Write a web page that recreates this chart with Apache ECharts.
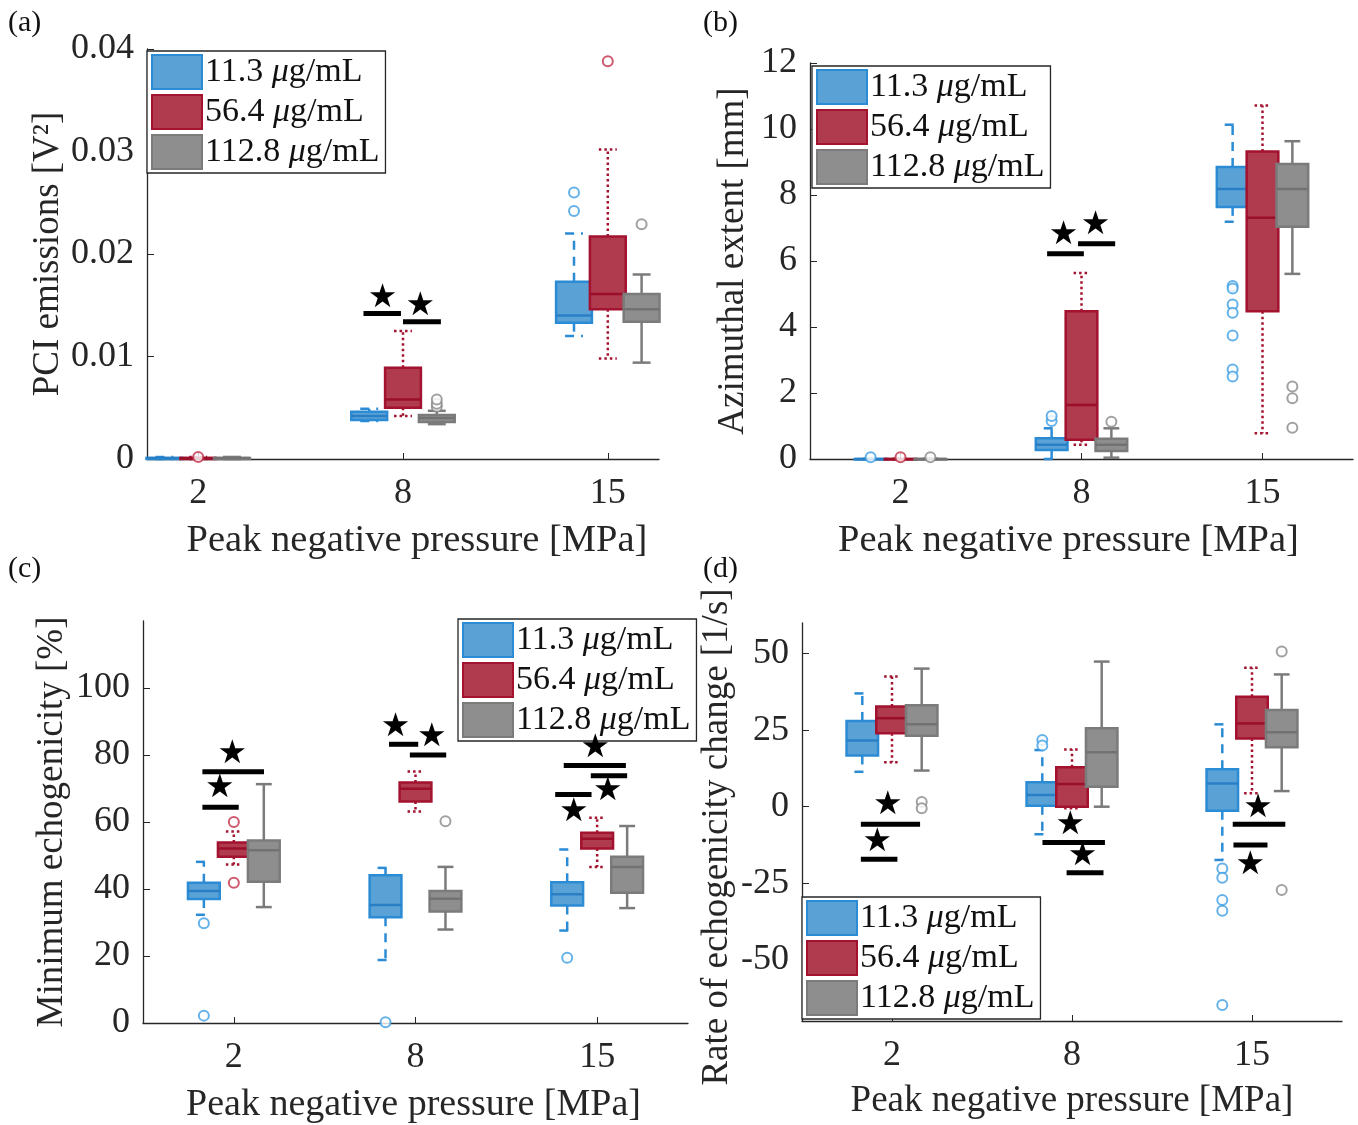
<!DOCTYPE html>
<html>
<head>
<meta charset="utf-8">
<title>Boxplots by pressure and concentration</title>
<script src="https://cdn.jsdelivr.net/npm/echarts@6.0.0/dist/echarts.min.js"></script>
<style>
html, body { margin: 0; padding: 0; background: #fff; }
#chart { width: 1358px; height: 1125px; }
</style>
</head>
<body>
<div id="chart"></div>
<script>
const pressures = ['2', '8', '15']
const concentrations = ['11.3 μg/mL', '56.4 μg/mL', '112.8 μg/mL']

// box stats per pressure: [lower whisker, q1, median, q3, upper whisker]
// (a) PCI emissions [V^2]
const pciBlue = [[0, 0, 0.0001, 0.0001, 0.0002], [0.0037, 0.0038, 0.0042, 0.0046, 0.0049], [0.0120, 0.0133, 0.0140, 0.0173, 0.0220]]
const pciRed = [[0, 0, 0.0001, 0.0001, 0.0002], [0.0042, 0.0050, 0.0058, 0.0089, 0.0125], [0.0098, 0.0146, 0.0161, 0.0217, 0.0302]]
const pciGray = [[0, 0, 0.0001, 0.0001, 0.0002], [0.0034, 0.0036, 0.0040, 0.0043, 0.0047], [0.0094, 0.0134, 0.0146, 0.0161, 0.0180]]
// outliers: [pressure position 1..3, value]
const pciBlueOut = [[3, 0.0242], [3, 0.0260]]
const pciRedOut = [[1, 0.0002], [3, 0.0388]]
const pciGrayOut = [[2, 0.0051], [2, 0.0054], [2, 0.0058], [3, 0.0229]]
// significance bars [x from, x to, y] and stars [x, y]
const pciBars = [[1.807, 1.99, 0.0142], [2.0, 2.185, 0.0134]]
const pciStars = [[1.90, 0.0157], [2.084, 0.0149]]

// (b) Azimuthal extent [mm]
const aziBlue = [[0, 0, 0, 0, 0], [0, 0.27, 0.43, 0.63, 0.93], [7.19, 7.64, 8.18, 8.85, 10.13]]
const aziRed = [[0, 0, 0, 0, 0], [0.43, 0.58, 1.64, 4.48, 5.64], [0.78, 4.48, 7.31, 9.32, 10.71]]
const aziGray = [[0, 0, 0, 0, 0], [0.04, 0.24, 0.43, 0.61, 0.93], [5.61, 7.04, 8.18, 8.94, 9.63]]
const aziBlueOut = [[1, 0.05], [2, 1.15], [2, 1.3], [3, 5.24], [3, 5.17], [3, 4.68], [3, 4.43], [3, 3.74], [3, 2.71], [3, 2.5]]
const aziRedOut = [[1, 0.05]]
const aziGrayOut = [[1, 0.05], [2, 1.13], [3, 2.2], [3, 1.84], [3, 0.95]]
const aziBars = [[1.81, 2.013, 6.22], [1.981, 2.186, 6.52]]
const aziStars = [[1.901, 6.76], [2.078, 7.09]]

// (c) Minimum echogenicity [%]
const echoBlue = [[32.3, 37.0, 39.4, 41.9, 48.1], [18.8, 31.6, 35.2, 44.1, 46.3], [27.6, 35.1, 38.4, 42.0, 51.8]]
const echoRed = [[47.3, 49.6, 52.1, 53.9, 57.2], [63.1, 66.1, 69.9, 71.8, 75.1], [46.6, 52.1, 55.0, 56.8, 61.3]]
const echoGray = [[34.6, 42.2, 51.6, 54.5, 71.3], [27.9, 33.3, 37.1, 39.4, 46.6], [34.3, 38.9, 46.6, 49.6, 58.8]]
const echoBlueOut = [[1, 29.8], [1, 2.2], [2, 0.2], [3, 19.5]]
const echoRedOut = [[1, 60.0], [1, 41.9]]
const echoGrayOut = [[2, 60.2]]
const echoBars = [[0.827, 1.166, 75.0], [0.827, 1.027, 64.4], [1.854, 2.015, 83.2], [1.969, 2.169, 80.0],
  [2.816, 3.158, 76.9], [2.965, 3.165, 73.8], [2.769, 2.969, 68.2]]
const echoStars = [[0.992, 80.2], [0.923, 69.9], [1.89, 88.3], [2.089, 85.2], [2.99, 81.9], [3.058, 69.2], [2.871, 62.9]]

// (d) Rate of echogenicity change [1/s]
const rateBlue = [[11.4, 16.7, 21.6, 28.0, 37.0], [-9.0, 0.3, 3.8, 8.0, 18.5], [-17.4, -1.3, 7.6, 12.2, 26.9]]
const rateRed = [[14.5, 24.0, 28.9, 32.7, 42.5], [-0.5, 0, 7.4, 12.9, 18.7], [4.4, 22.3, 27.2, 35.9, 45.4]]
const rateGray = [[11.8, 23.2, 26.9, 33.1, 45.1], [0, 6.5, 17.8, 25.6, 47.4], [5.1, 19.4, 24.3, 31.6, 43.2]]
const rateBlueOut = [[2, 21.8], [2, 20.0], [3, -20.2], [3, -23.2], [3, -30.5], [3, -34.0], [3, -64.8]]
const rateRedOut = []
const rateGrayOut = [[1, 1.5], [1, -0.5], [3, 50.7], [3, -27.2]]
const rateBars = [[0.827, 1.156, -5.7], [0.827, 1.03, -17.2], [1.836, 2.183, -11.7], [1.97, 2.175, -21.6],
  [2.893, 3.185, -5.7], [2.897, 3.086, -12.5]]
const rateStars = [[0.977, 0.5], [0.918, -11.8], [1.99, -6.0], [2.058, -16.3], [3.033, -0.5], [2.99, -19.1]]

const FONT = 'Liberation Serif'
const INK = '#262626'
const BOX_WIDTH = 0.175
const OFFSETS = [-0.165, 0, 0.165]
const STYLES = [
  { fill: '#5aa2d6', border: '#2b8bd4', median: '#2a7fc4', outlier: '#3d9fe3', dash: [9, 7] },
  { fill: '#b03a4e', border: '#a3132f', median: '#9a0f2a', outlier: '#c23049', dash: [2.5, 3] },
  { fill: '#8e8e8e', border: '#7b7b7b', median: '#727272', outlier: '#8a8a8a', dash: null }
]

const panels = [
  {
    letter: '(a)', letterPos: [8, 8],
    grid: { left: 147, top: 49, width: 512, height: 410 },
    xRange: [0.75, 3.25], xPad: [0, 0, 0, 28], xFont: 38.5, xGap: 62,
    y: { min: 0, max: 0.04, ticks: [0, 0.01, 0.02, 0.03, 0.04], fmt: v => (v === 0 ? '0' : v.toFixed(2)) },
    yName: 'PCI emissions [V²]', yGap: 80, yPad: 0,
    boxes: [pciBlue, pciRed, pciGray], outliers: [pciBlueOut, pciRedOut, pciGrayOut],
    bars: pciBars, stars: pciStars,
    legend: { left: 147, top: 51 }
  },
  {
    letter: '(b)', letterPos: [703, 8],
    grid: { left: 810, top: 63, width: 543, height: 396 },
    xRange: [0.5, 3.5], xPad: [0, 26, 0, 0], xFont: 38.5, xGap: 62,
    y: { min: 0, max: 12, ticks: [0, 2, 4, 6, 8, 10, 12], fmt: v => String(v) },
    yName: 'Azimuthal extent [mm]', yGap: 58, yPad: 0,
    boxes: [aziBlue, aziRed, aziGray], outliers: [aziBlueOut, aziRedOut, aziGrayOut],
    bars: aziBars, stars: aziStars,
    legend: { left: 812, top: 66 }
  },
  {
    letter: '(c)', letterPos: [8, 554],
    grid: { left: 143, top: 621, width: 545, height: 403 },
    xRange: [0.5, 3.5], xPad: [0, 4, 0, 0], xFont: 38, xGap: 63,
    y: { min: 0, max: 120, ticks: [0, 20, 40, 60, 80, 100], fmt: v => String(v) },
    yName: 'Minimum echogenicity [%]', yGap: 72, yPad: 0,
    boxes: [echoBlue, echoRed, echoGray], outliers: [echoBlueOut, echoRedOut, echoGrayOut],
    bars: echoBars, stars: echoStars,
    legend: { left: 458, top: 619 }
  },
  {
    letter: '(d)', letterPos: [703, 554],
    grid: { left: 802, top: 623, width: 540, height: 398 },
    xRange: [0.5, 3.5], xPad: 0, xFont: 37, xGap: 62,
    y: { min: -70, max: 60, ticks: [-50, -25, 0, 25, 50], fmt: v => String(v) },
    yName: 'Rate of echogenicity change [1/s]', yGap: 66, yPad: [0, 30, 0, 0],
    boxes: [rateBlue, rateRed, rateGray], outliers: [rateBlueOut, rateRedOut, rateGrayOut],
    bars: rateBars, stars: rateStars,
    legend: { left: 802, top: 897 }
  }
]

// draw one box with whiskers, caps and median
function renderBox(offset, st) {
  return function (params, api) {
    const x = api.value(0) + offset
    const w = api.size([BOX_WIDTH, 0])[0]
    const pMin = api.coord([x, api.value(1)])
    const pQ1 = api.coord([x, api.value(2)])
    const pMed = api.coord([x, api.value(3)])
    const pQ3 = api.coord([x, api.value(4)])
    const pMax = api.coord([x, api.value(5)])
    const cx = pMed[0]
    const cap = w / 4
    const wStyle = { stroke: st.border, lineWidth: 2.5, lineDash: st.dash }
    const line = (x1, y1, x2, y2, style) => ({ type: 'line', shape: { x1, y1, x2, y2 }, style })
    return {
      type: 'group',
      children: [
        line(cx, pQ3[1], cx, pMax[1], wStyle),
        line(cx, pQ1[1], cx, pMin[1], wStyle),
        line(cx - cap, pMax[1], cx + cap, pMax[1], wStyle),
        line(cx - cap, pMin[1], cx + cap, pMin[1], wStyle),
        {
          type: 'rect',
          shape: { x: cx - w / 2, y: pQ3[1], width: w, height: Math.max(pQ1[1] - pQ3[1], 0.5) },
          style: { fill: st.fill, stroke: st.border, lineWidth: 2.5 }
        },
        line(cx - w / 2, pMed[1], cx + w / 2, pMed[1], { stroke: st.median, lineWidth: 2.5 })
      ]
    }
  }
}

function renderBar(params, api) {
  const p1 = api.coord([api.value(0), api.value(2)])
  const p2 = api.coord([api.value(1), api.value(2)])
  return { type: 'rect', shape: { x: p1[0], y: p1[1] - 2.5, width: p2[0] - p1[0], height: 5 }, style: { fill: '#000' } }
}

function renderStar(params, api) {
  const p = api.coord([api.value(0), api.value(1)])
  return {
    type: 'text', x: p[0], y: p[1],
    style: { text: '★', fill: '#000', fontSize: 33, fontFamily: 'DejaVu Sans', align: 'center', verticalAlign: 'middle' }
  }
}

function initChart() {
  const chart = echarts.init(document.getElementById('chart'), null, { renderer: 'canvas' })
  const option = {
    backgroundColor: '#fff',
    animation: false,
    grid: [], xAxis: [], yAxis: [], legend: [], series: [], graphic: []
  }

  panels.forEach((p, i) => {
    option.grid.push(Object.assign({ containLabel: false }, p.grid))
    option.xAxis.push({
      type: 'value', gridIndex: i, min: p.xRange[0], max: p.xRange[1],
      axisLine: { show: true, onZero: false, lineStyle: { color: INK, width: 1.3 } },
      axisTick: { show: true, inside: true, length: 6, customValues: [1, 2, 3], lineStyle: { color: INK } },
      axisLabel: {
        customValues: [1, 2, 3], formatter: v => pressures[Math.round(v) - 1],
        fontFamily: FONT, fontSize: 36, color: INK, margin: 17
      },
      splitLine: { show: false },
      name: 'Peak negative pressure [MPa]', nameLocation: 'middle', nameGap: p.xGap,
      nameTextStyle: { fontFamily: FONT, fontSize: p.xFont, color: INK, padding: p.xPad }
    })
    option.yAxis.push({
      type: 'value', gridIndex: i, min: p.y.min, max: p.y.max,
      axisLine: { show: true, onZero: false, lineStyle: { color: INK, width: 1.3 } },
      axisTick: { show: true, inside: true, length: 7, customValues: p.y.ticks, lineStyle: { color: INK } },
      axisLabel: { customValues: p.y.ticks, formatter: p.y.fmt, fontFamily: FONT, fontSize: 36, color: INK, margin: 13 },
      splitLine: { show: false },
      name: p.yName, nameLocation: 'middle', nameGap: p.yGap, nameRotate: 90,
      nameTextStyle: { fontFamily: FONT, fontSize: 37, color: INK, padding: p.yPad }
    })
    option.legend.push({
      left: p.legend.left, top: p.legend.top, orient: 'vertical',
      itemWidth: 50, itemHeight: 34, itemGap: 4,
      padding: [3, 6, 3, 4],
      backgroundColor: '#fff', borderColor: INK, borderWidth: 1.3,
      selectedMode: false,
      data: concentrations.map((name, k) => ({
        name, icon: 'rect',
        itemStyle: { color: STYLES[k].fill, borderColor: STYLES[k].border, borderWidth: 2 }
      })),
      formatter: name => name.replace('μ', '{i|μ}'),
      textStyle: {
        fontFamily: FONT, fontSize: 34, lineHeight: 36, color: '#111', padding: [0, 0, 0, -2],
        rich: { i: { fontFamily: FONT, fontSize: 34, lineHeight: 36, fontStyle: 'italic', color: '#111' } }
      }
    })

    p.boxes.forEach((rows, k) => {
      option.series.push({
        type: 'custom', name: concentrations[k], xAxisIndex: i, yAxisIndex: i, z: 2,
        itemStyle: { color: STYLES[k].fill },
        renderItem: renderBox(OFFSETS[k], STYLES[k]),
        encode: { x: 0, y: [1, 2, 3, 4, 5] },
        data: rows.map((r, j) => [j + 1].concat(r))
      })
    })
    p.outliers.forEach((pts, k) => {
      option.series.push({
        type: 'scatter', name: concentrations[k], xAxisIndex: i, yAxisIndex: i, z: 3,
        symbol: 'emptyCircle', symbolSize: 10,
        itemStyle: { color: STYLES[k].outlier, borderWidth: 1.6 },
        data: pts.map(o => [o[0] + OFFSETS[k], o[1]])
      })
    })
    option.series.push({
      type: 'custom', xAxisIndex: i, yAxisIndex: i, z: 4,
      renderItem: renderBar, encode: { x: [0, 1], y: 2 }, data: p.bars
    })
    option.series.push({
      type: 'custom', xAxisIndex: i, yAxisIndex: i, z: 4,
      renderItem: renderStar, encode: { x: 0, y: 1 }, data: p.stars
    })
    option.graphic.push({
      type: 'text', left: p.letterPos[0], top: p.letterPos[1],
      style: { text: p.letter, fontFamily: FONT, fontSize: 30, fill: '#111' }
    })
  })

  chart.setOption(option)
}

initChart()
</script>
</body>
</html>
